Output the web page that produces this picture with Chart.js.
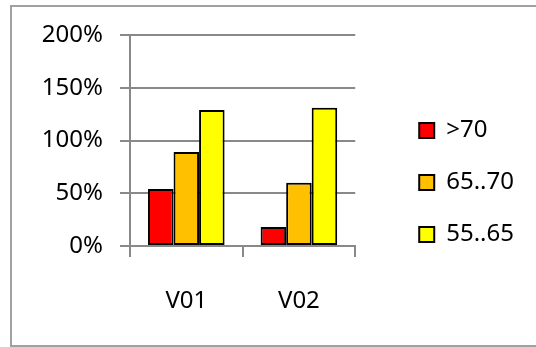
<!DOCTYPE html>
<html>
<head>
<meta charset="utf-8">
<script src="https://cdn.jsdelivr.net/npm/chart.js@4/dist/chart.umd.min.js"></script>
<style>
  html, body { margin: 0; padding: 0; background: #fff; }
  #wrap { position: relative; width: 536px; height: 347px; overflow: hidden; }
  #frame { position: absolute; left: 10px; top: 5px; width: 600px; height: 338px; border: 2px solid #a0a0a0; }
  canvas { position: absolute; left: 0; top: 0; }
</style>
</head>
<body>
<div id="wrap">
  <div id="frame"></div>
  <canvas id="chart" width="536" height="347"></canvas>
</div>
<script>
// categories and series (values as fractions, shown as percent)
const categories = ['V01', 'V02'];
const seriesNames = ['>70', '65..70', '55..65'];
const over70 = [0.54, 0.18];
const from65to70 = [0.89, 0.60];
const from55to65 = [1.29, 1.31];
const seriesColors = ['#FF0000', '#FFC000', '#FFFF00'];
const yTicks = [0, 0.5, 1, 1.5, 2];

const font = { family: 'Noto Sans', size: 24 };
const gridGray = '#898989';

const seriesValues = [over70, from65to70, from55to65];

new Chart(document.getElementById('chart'), {
  type: 'bar',
  data: {
    labels: categories,
    datasets: seriesValues.map((vals, i) => ({
      label: seriesNames[i],
      data: vals,
      backgroundColor: seriesColors[i],
      borderColor: '#000',
      borderWidth: 2,
      borderSkipped: false,
      categoryPercentage: 0.68,
      barPercentage: 1.0
    }))
  },
  options: {
    responsive: false,
    animation: false,
    layout: { padding: { top: 35, bottom: 17, left: 0, right: 12 } },
    plugins: {
      tooltip: { enabled: false },
      legend: {
        position: 'right',
        maxWidth: 200,
        labels: {
          color: '#000',
          font: font,
          boxWidth: 15,
          boxHeight: 15,
          padding: 28
        }
      }
    },
    scales: {
      x: {
        grid: { drawOnChartArea: false, drawTicks: true, tickLength: 11, color: gridGray, lineWidth: 2 },
        border: { color: gridGray, width: 2 },
        ticks: { color: '#000', font: font, padding: 30 },
        afterFit: (scale) => { scale.height = 84; }
      },
      y: {
        min: 0,
        max: 2,
        afterBuildTicks: (scale) => { scale.ticks = yTicks.map(v => ({ value: v })); },
        grid: { color: gridGray, lineWidth: 2, tickLength: 10 },
        border: { color: gridGray, width: 2 },
        ticks: {
          color: '#000',
          font: font,
          padding: 17,
          callback: (v) => Math.round(v * 100) + '%'
        },
        afterFit: (scale) => { scale.width = 130; }
      },
      gap: {
        position: 'right',
        display: true,
        grid: { display: false },
        border: { display: false },
        ticks: { display: false },
        afterFit: (scale) => { scale.width = 36; }
      }
    }
  }
});
</script>
</body>
</html>
